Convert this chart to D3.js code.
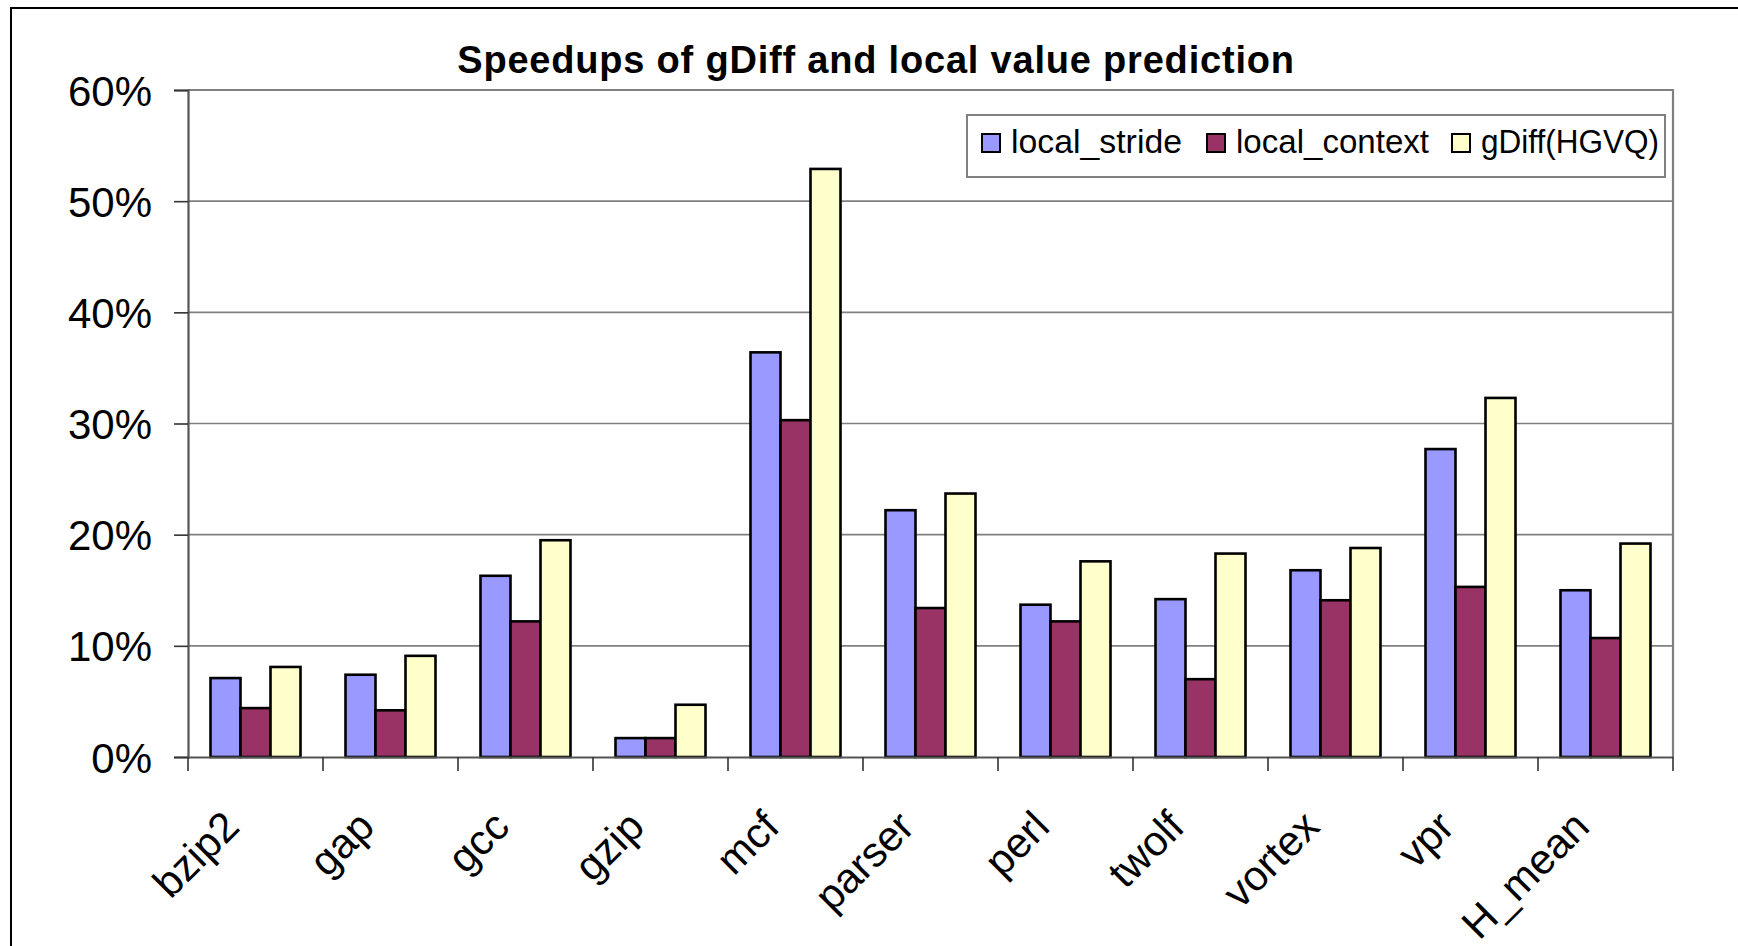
<!DOCTYPE html>
<html>
<head>
<meta charset="utf-8">
<script src="https://cdn.jsdelivr.net/npm/d3@7"></script>
<style>
  body { margin: 0; background: #fff; }
  svg { display: block; font-family: "Liberation Sans", Arial, sans-serif; }
</style>
</head>
<body>
<script>
"use strict";
// chart values (percent)
const categories = ["bzip2", "gap", "gcc", "gzip", "mcf", "parser", "perl", "twolf", "vortex", "vpr", "H_mean"];
const seriesNames = ["local_stride", "local_context", "gDiff(HGVQ)"];
const localStride = [7.1, 7.4, 16.3, 1.7, 36.4, 22.2, 13.7, 14.2, 16.8, 27.7, 15.0];
const localContext = [4.4, 4.2, 12.2, 1.7, 30.3, 13.4, 12.2, 7.0, 14.1, 15.3, 10.7];
const gDiff = [8.1, 9.1, 19.5, 4.7, 52.9, 23.7, 17.6, 18.3, 18.8, 32.3, 19.2];
const yTicks = [0, 10, 20, 30, 40, 50, 60];
const colors = ["#9999ff", "#993366", "#ffffcc"];

const W = 1738, H = 946;
const plot = {left: 188, right: 1673, top: 90, bottom: 757};

const svg = d3.select("body").append("svg")
  .attr("width", W)
  .attr("height", H);

// outer chart frame
svg.append("rect")
  .attr("x", 11).attr("y", 8)
  .attr("width", W).attr("height", H)
  .attr("fill", "none")
  .attr("stroke", "#000")
  .attr("stroke-width", 2);

const y = d3.scaleLinear().domain([0, 60]).range([plot.bottom, plot.top]);
const x0 = d3.scaleBand().domain(categories).range([plot.left, plot.right]).padding(0);
const x1 = d3.scaleBand().domain(seriesNames).range([0, x0.bandwidth()]).paddingInner(0).paddingOuter(0.75);

// gridlines
svg.append("g")
  .selectAll("line")
  .data(yTicks.slice(1))
  .enter()
  .append("line")
  .attr("x1", plot.left).attr("x2", plot.right)
  .attr("y1", d => y(d)).attr("y2", d => y(d))
  .attr("stroke", "#808080")
  .attr("stroke-width", 1.6);

// plot area border (top / right)
svg.append("path")
  .attr("d", `M${plot.left},${plot.top}H${plot.right}V${plot.bottom}`)
  .attr("fill", "none")
  .attr("stroke", "#808080")
  .attr("stroke-width", 2.2);

// bars
const table = categories.map((c, i) => ({cat: c, vals: [localStride[i], localContext[i], gDiff[i]]}));
const groups = svg.append("g")
  .selectAll("g")
  .data(table)
  .enter()
  .append("g")
  .attr("transform", d => "translate(" + x0(d.cat) + ",0)");
groups.selectAll("rect")
  .data(d => d.vals.map((v, j) => ({name: seriesNames[j], v: v, j: j})))
  .enter()
  .append("rect")
  .attr("x", d => x1(d.name))
  .attr("y", d => y(d.v))
  .attr("width", x1.bandwidth())
  .attr("height", d => plot.bottom - y(d.v))
  .attr("fill", d => colors[d.j])
  .attr("stroke", "#000")
  .attr("stroke-width", 2.6);

// y axis
const yAxis = d3.axisLeft(y)
  .tickValues(yTicks)
  .tickFormat(d => d + "%")
  .tickSize(14)
  .tickPadding(22);
const gy = svg.append("g")
  .attr("transform", "translate(" + plot.left + ",0)")
  .call(yAxis);
gy.select(".domain").attr("stroke", "#555").attr("stroke-width", 2.2);
gy.selectAll(".tick line").attr("stroke", "#333").attr("stroke-width", 1.6);
gy.selectAll(".tick text")
  .attr("font-size", 42)
  .attr("font-family", "Liberation Sans, Arial, sans-serif")
  .attr("fill", "#000")
  .attr("dy", "0.36em");

// x axis
const xAxis = d3.axisBottom(x0).tickSize(0).tickFormat("");
const gx = svg.append("g")
  .attr("transform", "translate(0," + plot.bottom + ")")
  .call(xAxis);
gx.select(".domain").attr("stroke", "#555").attr("stroke-width", 2.2);
gx.selectAll(".sep")
  .data(categories.concat(["end"]))
  .enter()
  .append("line")
  .attr("class", "sep")
  .attr("x1", (d, i) => plot.left + i * x0.step())
  .attr("x2", (d, i) => plot.left + i * x0.step())
  .attr("y1", 0).attr("y2", 14)
  .attr("stroke", "#333")
  .attr("stroke-width", 1.6);

// rotated category labels
svg.append("g")
  .selectAll("text")
  .data(categories)
  .enter()
  .append("text")
  .attr("transform", d => "translate(" + (x0(d) + x0.bandwidth() / 2 - 14) + "," + (plot.bottom + 72) + ") rotate(-45)")
  .attr("text-anchor", "end")
  .attr("font-size", 42)
  .attr("fill", "#000")
  .text(d => d);

// title
svg.append("text")
  .attr("x", 876)
  .attr("y", 73)
  .attr("text-anchor", "middle")
  .attr("font-size", 38)
  .attr("font-weight", "bold")
  .attr("letter-spacing", 0.8)
  .attr("fill", "#000")
  .text("Speedups of gDiff and local value prediction");

// legend
const legend = svg.append("g");
legend.append("rect")
  .attr("x", 967).attr("y", 115)
  .attr("width", 698).attr("height", 62)
  .attr("fill", "#fff")
  .attr("stroke", "#808080")
  .attr("stroke-width", 2);
const legendX = [982, 1207, 1452];
const items = legend.selectAll("g.item")
  .data(seriesNames)
  .enter()
  .append("g")
  .attr("class", "item")
  .attr("transform", (d, i) => "translate(" + legendX[i] + ",134)");
items.append("rect")
  .attr("width", 18).attr("height", 18)
  .attr("fill", (d, i) => colors[i])
  .attr("stroke", "#000")
  .attr("stroke-width", 2);
items.append("text")
  .attr("x", 29)
  .attr("y", 19)
  .attr("font-size", 33)
  .attr("fill", "#000")
  .attr("textLength", (d, i) => [171, 193, 178][i])
  .attr("lengthAdjust", "spacingAndGlyphs")
  .text(d => d);
</script>
</body>
</html>
